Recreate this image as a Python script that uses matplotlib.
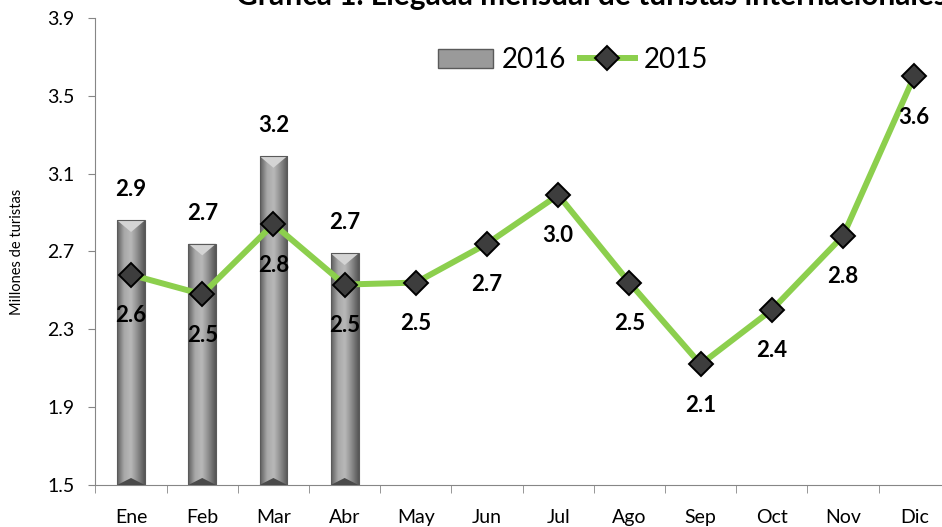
import matplotlib
matplotlib.use("Agg")
import matplotlib.pyplot as plt
import matplotlib.patches as mp
from matplotlib.lines import Line2D
import numpy as np

# datos (millones de turistas)
meses = ["Ene", "Feb", "Mar", "Abr", "May", "Jun", "Jul", "Ago", "Sep", "Oct", "Nov", "Dic"]
llegadas_2016 = [2.86, 2.74, 3.19, 2.69]
llegadas_2015 = [2.58, 2.48, 2.84, 2.53, 2.54, 2.74, 2.99, 2.54, 2.12, 2.40, 2.78, 3.60]
yticks = [1.5, 1.9, 2.3, 2.7, 3.1, 3.5, 3.9]

TITULO = "Gráfica 1. Llegada mensual de turistas internacionales"
GREEN, AXIS = "#8ccf4d", "#868686"

plt.rcParams.update({"font.family": ["Lato", "DejaVu Sans"], "text.color": "black"})

fig = plt.figure(figsize=(9.42, 5.27), dpi=100)
ax = fig.add_axes([0.1013, 0.0797, 0.907, 0.8863])
ax.set_xlim(-0.5, 11.5)
ax.set_ylim(1.5, 3.9)

# barras 2016 con degradado tipo cilindro
x16 = np.arange(len(llegadas_2016))
bars = ax.bar(x16, np.array(llegadas_2016) - 1.5, bottom=1.5, width=0.39,
              color="none", edgecolor="none", zorder=2)
grad = matplotlib.colors.LinearSegmentedColormap.from_list(
    "cil", ["#5e5e5e", "#a8a8a8", "#b9b9b9", "#8a8a8a", "#555555"])
for b in bars:
    x0, w, top = b.get_x(), b.get_width(), b.get_y() + b.get_height()
    im = ax.imshow(np.linspace(0, 1, 64)[None, :], cmap=grad, aspect="auto",
                   extent=(x0, x0 + w, 1.5, top), zorder=2, interpolation="bicubic")
    im.set_clip_path(b)
    bev = 0.06
    ax.add_patch(mp.Polygon([(x0, top), (x0 + w, top), (x0 + w / 2, top - bev)],
                            closed=True, fc="#d4d4d4", ec="none", zorder=3))
    ax.add_patch(mp.Polygon([(x0, 1.5), (x0 + w, 1.5), (x0 + w / 2, 1.5 + bev * 0.6)],
                            closed=True, fc="#4a4a4a", ec="none", zorder=3))
    ax.add_patch(mp.Rectangle((x0, 1.5), w, top - 1.5, fc="none", ec="#5a5a5a",
                              lw=0.8, zorder=3))
    ax.annotate(f"{top:.1f}", (x0 + w / 2, top), xytext=(0, 22), textcoords="offset points",
                ha="center", va="center", fontsize=16, fontweight="bold")

# linea 2015
x15 = np.arange(len(llegadas_2015))
ax.plot(x15, llegadas_2015, color=GREEN, lw=4.3, marker="D", ms=12.5,
        mfc="#3d3d3d", mec="black", mew=1.4, zorder=4, solid_capstyle="round")
for xi, v in zip(x15, llegadas_2015):
    ax.annotate(f"{v:.1f}", (xi, v), xytext=(0, -29.5), textcoords="offset points",
                ha="center", va="center", fontsize=16, fontweight="bold", zorder=5)

# ejes
for s in ["top", "right"]:
    ax.spines[s].set_visible(False)
for s in ["left", "bottom"]:
    ax.spines[s].set_color(AXIS)
ax.set_yticks(yticks)
ax.set_yticklabels([f"{t:.1f}" for t in yticks], fontsize=14)
ax.set_xticks(x15)
ax.set_xticklabels(meses, fontsize=14)
ax.set_xticks(np.arange(-0.5, 12, 1), minor=True)
ax.tick_params(axis="x", which="major", length=0, pad=17)
ax.tick_params(axis="x", which="minor", length=6, color=AXIS)
ax.tick_params(axis="y", length=5, color=AXIS, pad=10)
ax.set_ylabel("Millones de turistas", fontsize=10.5)
ax.yaxis.set_label_coords(-0.084, 0.5)

handles = [mp.Patch(fc="#9a9a9a", ec="#5a5a5a", lw=1),
           Line2D([], [], color=GREEN, lw=4.3, marker="D", ms=12.5,
                  mfc="#3d3d3d", mec="black", mew=1.4)]
fig.legend(handles, ["2016", "2015"], loc="center", bbox_to_anchor=(0.608, 0.886),
           ncol=2, frameon=False, fontsize=20, handlelength=2.0, handletextpad=0.3,
           columnspacing=0.5)

fig.text(0.2505, 0.9905, TITULO, ha="left", va="baseline", fontsize=21.5, fontweight="bold")

fig.savefig("out.png", dpi=100, facecolor="white")
